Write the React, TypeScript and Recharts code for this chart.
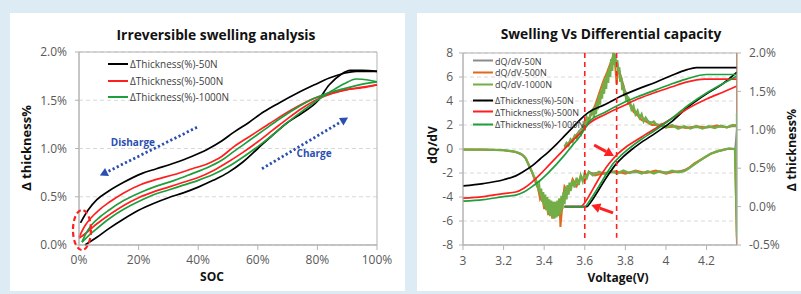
import {
  LineChart,
  Line,
  XAxis,
  YAxis,
  CartesianGrid,
  ReferenceLine,
  ReferenceDot,
  ReferenceArea,
} from "recharts";

// ---------- left chart: thickness vs SOC ----------
const socTicks = [0, 20, 40, 60, 80, 100];
const thickTicks = [0, 0.5, 1, 1.5, 2];

const socCharge50 = [2, 6, 10, 15, 20, 25, 30, 35, 40, 45, 50, 55, 60, 65, 70, 75, 80, 84, 88, 91, 95, 100];
const thickCharge50 = [0, 0.08, 0.17, 0.27, 0.36, 0.43, 0.49, 0.54, 0.6, 0.67, 0.75, 0.86, 1.0, 1.14, 1.27, 1.37, 1.49, 1.66, 1.77, 1.81, 1.81, 1.8];
const socDischarge50 = [0.5, 3, 6, 10, 15, 21, 26, 32, 38, 43, 48, 52, 57, 62, 67, 73, 79, 84, 89, 93, 100];
const thickDischarge50 = [0.23, 0.36, 0.47, 0.56, 0.65, 0.74, 0.79, 0.85, 0.92, 0.99, 1.08, 1.17, 1.27, 1.38, 1.47, 1.57, 1.66, 1.73, 1.78, 1.8, 1.8];

const socCharge500 = [0, 3, 6, 10, 15, 20, 25, 30, 35, 40, 45, 50, 55, 60, 65, 70, 75, 80, 85, 90, 95, 100];
const thickCharge500 = [0.07, 0.14, 0.22, 0.31, 0.41, 0.49, 0.55, 0.6, 0.65, 0.7, 0.77, 0.86, 0.96, 1.07, 1.19, 1.31, 1.42, 1.51, 1.57, 1.61, 1.63, 1.66];
const socDischarge500 = [0, 2, 4, 7, 10, 15, 21, 26, 32, 38, 43, 48, 52, 57, 62, 67, 73, 79, 84, 88, 94, 100];
const thickDischarge500 = [0.08, 0.2, 0.28, 0.37, 0.44, 0.54, 0.63, 0.68, 0.73, 0.79, 0.84, 0.92, 1.02, 1.12, 1.22, 1.32, 1.43, 1.52, 1.57, 1.6, 1.63, 1.66];

const socCharge1000 = [1, 3, 6, 10, 15, 20, 25, 30, 35, 40, 45, 50, 55, 60, 65, 70, 75, 80, 85, 89, 93, 97, 100];
const thickCharge1000 = [0.03, 0.09, 0.17, 0.27, 0.37, 0.45, 0.52, 0.57, 0.62, 0.67, 0.73, 0.81, 0.91, 1.02, 1.14, 1.27, 1.39, 1.5, 1.6, 1.67, 1.72, 1.71, 1.69];
const socDischarge1000 = [1, 2, 4, 7, 10, 15, 21, 26, 32, 38, 43, 48, 52, 57, 62, 67, 73, 79, 84, 89, 94, 100];
const thickDischarge1000 = [0.03, 0.1, 0.2, 0.29, 0.36, 0.46, 0.55, 0.61, 0.67, 0.74, 0.8, 0.88, 0.97, 1.08, 1.19, 1.3, 1.42, 1.52, 1.58, 1.62, 1.66, 1.69];

// ---------- right chart: dQ/dV and thickness vs voltage ----------
const voltTicks = [3, 3.2, 3.4, 3.6, 3.8, 4, 4.2];
const dqTicks = [-8, -6, -4, -2, 0, 2, 4, 6, 8];
const rightTicks = [-0.5, 0, 0.5, 1, 1.5, 2];

const voltDq50 = [3.5, 3.55, 3.6, 3.64, 3.68, 3.72, 3.745, 3.76, 3.78, 3.8, 3.83, 3.86, 3.9, 3.95, 4.0, 4.1, 4.2, 4.3, 4.35,
  4.34, 4.3, 4.22, 4.16, 4.1, 4.05, 3.9, 3.75, 3.62, 3.58, 3.54, 3.5, 3.47, 3.45, 3.42, 3.4, 3.38, 3.36, 3.34, 3.32, 3.3, 3.26, 3.2, 3.0];
const dq50 = [0.2, 1.0, 2.1, 3.0, 4.6, 6.4, 7.6, 7.2, 6.0, 4.8, 3.6, 2.9, 2.4, 2.1, 1.9, 1.8, 1.8, 1.85, 1.9,
  0.0, 0.0, -0.4, -1.05, -1.7, -1.9, -1.95, -1.95, -2.0, -2.5, -3.0, -3.6, -4.8, -5.3, -4.9, -4.6, -3.9, -2.8, -1.9, -1.2, -0.6, -0.25, -0.1, -0.05];

const voltDq500 = [3.5, 3.52, 3.54, 3.56, 3.58, 3.595, 3.6, 3.61, 3.63, 3.65, 3.67, 3.69, 3.71, 3.73, 3.745, 3.757, 3.765, 3.78, 3.8, 3.82, 3.84, 3.86, 3.88, 3.9, 3.93, 3.96, 4.0, 4.05, 4.1, 4.15, 4.2, 4.25, 4.3, 4.34, 4.35, 4.35, 4.35,
  4.34, 4.3, 4.26, 4.22, 4.18, 4.14, 4.11, 4.08, 4.04, 4.0, 3.95, 3.9, 3.85, 3.8, 3.75, 3.7, 3.65, 3.62, 3.6, 3.58, 3.56, 3.54, 3.52, 3.5, 3.49, 3.48, 3.475, 3.46, 3.45, 3.44, 3.43, 3.42, 3.41, 3.4, 3.39, 3.38, 3.37, 3.36, 3.35, 3.33, 3.31, 3.29, 3.26, 3.2, 3.1, 3.0];
const dq500 = [0.1, 0.5, 0.8, 1.2, 1.4, 1.6, 2.3, 2.2, 2.9, 3.6, 4.6, 5.6, 6.4, 7.3, 8.0, 5.4, 6.8, 5.8, 4.6, 3.8, 3.1, 2.8, 2.4, 2.3, 2.0, 2.0, 1.8, 1.9, 1.75, 1.9, 1.8, 1.95, 1.8, 2.0, 1.9, 8.0, -8.0,
  0.0, 0.0, -0.15, -0.4, -0.8, -1.2, -1.6, -1.85, -1.9, -2.05, -1.8, -2.0, -1.8, -2.05, -1.85, -2.0, -2.2, -1.9, -2.6, -2.3, -3.1, -2.5, -3.6, -3.1, -4.6, -6.5, -4.2, -5.5, -4.4, -5.8, -4.6, -5.5, -4.3, -5.0, -3.9, -4.2, -3.3, -2.9, -2.4, -1.5, -0.8, -0.45, -0.25, -0.1, -0.05, -0.05];

const voltDq1000 = [3.5, 3.51, 3.52, 3.53, 3.54, 3.55, 3.56, 3.57, 3.58, 3.59, 3.6, 3.61, 3.62, 3.63,
  3.64, 3.645, 3.65, 3.655, 3.66, 3.665, 3.67, 3.675, 3.68, 3.685, 3.69, 3.695, 3.7, 3.705, 3.71, 3.715, 3.72, 3.725, 3.73, 3.735, 3.74, 3.745, 3.75, 3.755, 3.76, 3.765, 3.77, 3.775, 3.78, 3.785, 3.79, 3.795, 3.8, 3.805, 3.81, 3.815, 3.82,
  3.83, 3.84, 3.85, 3.86, 3.87, 3.88, 3.89, 3.9, 3.92, 3.94, 3.96, 3.98, 4.0, 4.03, 4.06, 4.09, 4.12, 4.15, 4.18, 4.21, 4.24, 4.27, 4.3, 4.33, 4.35, 4.35, 4.35,
  4.34, 4.31, 4.28, 4.25, 4.22, 4.19, 4.16, 4.13, 4.11, 4.09, 4.06, 4.03, 4.0, 3.97, 3.94, 3.91, 3.88, 3.85, 3.82, 3.79, 3.76, 3.73, 3.7, 3.67, 3.64, 3.62, 3.61, 3.6, 3.59, 3.58, 3.57, 3.56, 3.55, 3.54,
  3.53, 3.525, 3.52, 3.515, 3.51, 3.505, 3.5, 3.495, 3.49, 3.485, 3.48, 3.475, 3.47, 3.465, 3.46, 3.455, 3.45, 3.445, 3.44, 3.435, 3.43, 3.425, 3.42, 3.415, 3.41, 3.405, 3.4, 3.395, 3.39, 3.385, 3.38, 3.375, 3.37,
  3.36, 3.35, 3.34, 3.33, 3.32, 3.31, 3.3, 3.28, 3.25, 3.2, 3.1, 3.0];
const dq1000 = [0.2, 0.5, 0.3, 0.8, 0.6, 1.1, 0.9, 1.4, 1.2, 1.9, 1.7, 2.6, 2.1, 3.1,
  3.3, 2.6, 3.5, 2.9, 3.9, 3.3, 4.5, 3.7, 4.9, 4.2, 5.5, 4.6, 5.9, 5.0, 6.4, 5.5, 6.8, 6.0, 7.5, 6.5, 8.0, 7.0, 7.9, 6.8, 7.4, 6.3, 6.8, 5.6, 6.0, 4.9, 5.3, 4.4, 4.8, 4.0, 4.4, 3.7, 4.0,
  3.3, 3.6, 2.9, 3.2, 2.6, 2.9, 2.3, 2.6, 2.1, 2.3, 1.9, 2.1, 1.8, 2.0, 1.7, 1.9, 1.7, 1.9, 1.7, 1.9, 1.75, 1.95, 1.8, 2.0, 1.9, 3.0, -7.4,
  0.0, 0.05, -0.1, -0.2, -0.4, -0.7, -1.05, -1.4, -1.65, -1.85, -1.95, -1.8, -2.0, -1.85, -2.05, -1.85, -2.05, -1.85, -2.0, -1.8, -2.05, -1.85, -2.1, -1.9, -2.2, -1.9, -2.4, -2.0, -2.7, -2.2, -3.0, -2.4, -3.2, -2.6,
  -3.5, -2.8, -3.8, -3.0, -4.2, -3.2, -4.6, -3.6, -5.0, -3.9, -5.4, -4.1, -5.6, -4.3, -5.7, -4.4, -5.8, -4.4, -5.7, -4.3, -5.6, -4.2, -5.4, -4.0, -5.1, -3.8, -4.8, -3.6, -4.4, -3.3, -3.8, -3.0, -3.2,
  -2.6, -2.3, -1.9, -1.6, -1.2, -0.8, -0.6, -0.35, -0.2, -0.1, -0.05, -0.05];

const voltCharge50 = [3.5, 3.61, 3.63, 3.66, 3.69, 3.72, 3.75, 3.79, 3.83, 3.87, 3.95, 4.03, 4.11, 4.2, 4.28, 4.35];
const swellCharge50 = [0.0, 0.0, 0.06, 0.18, 0.31, 0.43, 0.54, 0.65, 0.74, 0.82, 0.96, 1.11, 1.3, 1.47, 1.6, 1.75];
const voltDischarge50 = [3.0, 3.1, 3.2, 3.26, 3.3, 3.34, 3.38, 3.42, 3.46, 3.5, 3.54, 3.58, 3.62, 3.7, 3.78, 3.86, 3.95, 4.03, 4.1, 4.15, 4.35];
const swellDischarge50 = [0.27, 0.3, 0.35, 0.4, 0.46, 0.53, 0.62, 0.71, 0.81, 0.92, 1.03, 1.14, 1.23, 1.33, 1.44, 1.53, 1.62, 1.71, 1.78, 1.81, 1.81];

const voltCharge500 = [3.5, 3.58, 3.6, 3.63, 3.66, 3.69, 3.72, 3.76, 3.8, 3.87, 3.95, 4.03, 4.11, 4.2, 4.28, 4.35];
const swellCharge500 = [0.0, 0.0, 0.05, 0.18, 0.32, 0.45, 0.56, 0.68, 0.77, 0.89, 1.02, 1.15, 1.28, 1.4, 1.49, 1.57];
const voltDischarge500 = [3.0, 3.1, 3.2, 3.26, 3.3, 3.34, 3.38, 3.42, 3.46, 3.5, 3.54, 3.58, 3.62, 3.7, 3.78, 3.86, 3.95, 4.03, 4.1, 4.19, 4.35];
const swellDischarge500 = [0.11, 0.13, 0.17, 0.19, 0.24, 0.32, 0.42, 0.53, 0.64, 0.75, 0.86, 0.96, 1.08, 1.2, 1.3, 1.4, 1.49, 1.56, 1.62, 1.66, 1.66];

const voltCharge1000 = [3.5, 3.6, 3.62, 3.65, 3.68, 3.71, 3.74, 3.78, 3.82, 3.87, 3.95, 4.03, 4.11, 4.2, 4.28, 4.35];
const swellCharge1000 = [0.0, 0.0, 0.06, 0.18, 0.31, 0.44, 0.56, 0.67, 0.76, 0.86, 1.0, 1.15, 1.32, 1.48, 1.6, 1.7];
const voltDischarge1000 = [3.0, 3.1, 3.2, 3.26, 3.3, 3.34, 3.38, 3.42, 3.46, 3.5, 3.54, 3.58, 3.62, 3.7, 3.78, 3.86, 3.95, 4.03, 4.1, 4.2, 4.35];
const swellDischarge1000 = [0.07, 0.09, 0.13, 0.15, 0.19, 0.26, 0.34, 0.44, 0.55, 0.67, 0.8, 0.93, 1.1, 1.23, 1.34, 1.43, 1.52, 1.6, 1.66, 1.72, 1.72];

const zip = (xs: number[], ys: number[]) => xs.map((x, i) => ({ x, y: ys[i] }));

const BLACK = "#000000";
const RED = "#ff1f1f";
const GREEN = "#1f9e3c";
const GRAY_DQ = "#8c8c8c";
const ORANGE_DQ = "#e0691f";
const GREEN_DQ = "#72ad47";
const BLUE = "#2a4fb0";
const AXIS = "#b3b3b3";
const TICK = { fill: "#595959", fontSize: 12, fontFamily: "Open Sans" };

const arrowShape = (color: string, width: number, dash: string | undefined, head: number) => (p: any) => {
  const { x1, y1, x2, y2 } = p;
  const a = Math.atan2(y2 - y1, x2 - x1);
  const bx = x2 - Math.cos(a) * head;
  const by = y2 - Math.sin(a) * head;
  const w = head * 0.55;
  const pts = [
    [x2, y2],
    [bx + Math.sin(a) * w, by - Math.cos(a) * w],
    [bx - Math.sin(a) * w, by + Math.cos(a) * w],
  ]
    .map((q) => q.join(","))
    .join(" ");
  return (
    <g>
      <line x1={x1} y1={y1} x2={bx} y2={by} stroke={color} strokeWidth={width} strokeDasharray={dash} />
      <polygon points={pts} fill={color} />
    </g>
  );
};

const textShape = (label: string) => (p: any) => (
  <text x={p.cx} y={p.cy} textAnchor="middle" dominantBaseline="central" fill={BLUE} fontSize={10} fontWeight={700} fontFamily="Open Sans">
    {label}
  </text>
);

const ellipseShape = (p: any) => (
  <ellipse cx={p.cx} cy={p.cy} rx={9} ry={20} fill="none" stroke="#ff2020" strokeWidth={2.2} strokeDasharray="5 3" />
);

const centered = (left: number, top: number, rotate = 0): React.CSSProperties => ({
  position: "absolute",
  left,
  top,
  transform: `translate(-50%, -50%) rotate(${rotate}deg)`,
  whiteSpace: "nowrap",
  lineHeight: 1,
  fontWeight: 700,
  color: "#111",
});

const LegendRow = ({ top, left, color, label, fontSize, width }: any) => (
  <div style={{ position: "absolute", top, left, display: "flex", alignItems: "center", transform: "translateY(-50%)", fontSize, color: "#404040", whiteSpace: "nowrap", lineHeight: 1 }}>
    <div style={{ width: 20, height: width, background: color, marginRight: 2 }} />
    <span>{label}</span>
  </div>
);

const leftLegend = [
  { label: "ΔThickness(%)-50N", color: BLACK, top: 51 },
  { label: "ΔThickness(%)-500N", color: RED, top: 67.5 },
  { label: "ΔThickness(%)-1000N", color: GREEN, top: 84 },
];

const rightLegend = [
  { label: "dQ/dV-50N", color: GRAY_DQ, top: 47.7, w: 1.5 },
  { label: "dQ/dV-500N", color: ORANGE_DQ, top: 59.3, w: 2 },
  { label: "dQ/dV-1000N", color: GREEN_DQ, top: 71, w: 2 },
  { label: "ΔThickness(%)-50N", color: BLACK, top: 87, w: 2 },
  { label: "ΔThickness(%)-500N", color: RED, top: 98.7, w: 2 },
  { label: "ΔThickness(%)-1000N", color: GREEN, top: 111, w: 2 },
];

const SwellingChart = () => {
  const lineProps = { dot: false, activeDot: false, isAnimationActive: false, dataKey: "y", type: "monotone" as const };
  return (
    <div style={{ position: "absolute", left: 10, top: 13, width: 395, height: 278, background: "#fff", fontFamily: "Open Sans" }}>
      <LineChart width={395} height={278} margin={{ top: 39, right: 28, bottom: 16, left: 0 }}>
        <CartesianGrid vertical={false} stroke="#d9d9d9" strokeDasharray="4 3" />
        <XAxis
          dataKey="x"
          type="number"
          domain={[0, 100]}
          ticks={socTicks}
          tickFormatter={(v) => `${v}%`}
          height={30}
          tick={TICK}
          stroke={AXIS}
          tickSize={5}
          tickMargin={5}
        />
        <YAxis
          type="number"
          domain={[0, 2]}
          ticks={thickTicks}
          tickFormatter={(v) => `${v.toFixed(1)}%`}
          width={69}
          tick={TICK}
          stroke={AXIS}
          tickSize={4}
          tickMargin={8}
        />
        <ReferenceArea x1={0} x2={100} y1={0} y2={2} fill="none" stroke={AXIS} />
        <Line {...lineProps} data={zip(socCharge50, thickCharge50)} stroke={BLACK} strokeWidth={1.7} />
        <Line {...lineProps} data={zip(socDischarge50, thickDischarge50)} stroke={BLACK} strokeWidth={1.7} />
        <Line {...lineProps} data={zip(socCharge500, thickCharge500)} stroke={RED} strokeWidth={1.7} />
        <Line {...lineProps} data={zip(socDischarge500, thickDischarge500)} stroke={RED} strokeWidth={1.7} />
        <Line {...lineProps} data={zip(socCharge1000, thickCharge1000)} stroke={GREEN} strokeWidth={1.7} />
        <Line {...lineProps} data={zip(socDischarge1000, thickDischarge1000)} stroke={GREEN} strokeWidth={1.7} />
        <ReferenceLine
          segment={[{ x: 39.6, y: 1.22 }, { x: 7, y: 0.72 }]}
          shape={arrowShape(BLUE, 2.8, "2.2 2.4", 8)}
        />
        <ReferenceLine
          segment={[{ x: 61.4, y: 0.79 }, { x: 90.3, y: 1.32 }]}
          shape={arrowShape(BLUE, 2.8, "2.2 2.4", 8)}
        />
        <ReferenceDot x={18.1} y={1.07} shape={textShape("Disharge")} />
        <ReferenceDot x={78.9} y={0.95} shape={textShape("Charge")} />
        <ReferenceDot x={1} y={0.155} shape={ellipseShape} />
      </LineChart>
      <div style={{ ...centered(206, 22), fontSize: 13.8 }}>Irreversible swelling analysis</div>
      <div style={{ ...centered(16, 135, -90), fontSize: 13 }}>Δ thickness%</div>
      <div style={{ ...centered(202, 264), fontSize: 12 }}>SOC</div>
      {leftLegend.map((d) => (
        <LegendRow key={d.label} top={d.top} left={98} color={d.color} label={d.label} fontSize={10} width={2} />
      ))}
    </div>
  );
};

const DifferentialChart = () => {
  const dqProps = { dot: false, activeDot: false, isAnimationActive: false, dataKey: "y", type: "linear" as const, yAxisId: "left" };
  const swProps = { dot: false, activeDot: false, isAnimationActive: false, dataKey: "y", type: "monotone" as const, yAxisId: "right", strokeWidth: 1.7 };
  return (
    <div style={{ position: "absolute", left: 417, top: 13, width: 384, height: 278, background: "#fff", fontFamily: "Open Sans" }}>
      <LineChart width={384} height={278} margin={{ top: 40, right: 19, bottom: 16, left: 0 }}>
        <CartesianGrid vertical={false} yAxisId="left" stroke="#d9d9d9" strokeDasharray="4 3" />
        <XAxis
          dataKey="x"
          type="number"
          domain={[3, 4.35]}
          allowDataOverflow
          ticks={voltTicks}
          tickFormatter={(v) => `${Number(v.toFixed(1))}`}
          height={30}
          tick={TICK}
          stroke={AXIS}
          tickSize={5}
          tickMargin={6}
        />
        <YAxis
          yAxisId="left"
          type="number"
          domain={[-8, 8]}
          ticks={dqTicks}
          width={46}
          tick={TICK}
          stroke={AXIS}
          tickSize={4}
          tickMargin={6}
        />
        <YAxis
          yAxisId="right"
          orientation="right"
          type="number"
          domain={[-0.5, 2]}
          ticks={rightTicks}
          tickFormatter={(v) => `${v.toFixed(1)}%`}
          width={45}
          tick={TICK}
          stroke={AXIS}
          tickSize={4}
          tickMargin={8}
        />
        <ReferenceArea yAxisId="left" x1={3} x2={4.35} y1={-8} y2={8} fill="none" stroke={AXIS} />
        <Line {...dqProps} data={zip(voltDq50, dq50)} stroke={GRAY_DQ} strokeWidth={1.5} />
        <Line {...dqProps} data={zip(voltDq500, dq500)} stroke={ORANGE_DQ} strokeWidth={2} />
        <Line {...dqProps} data={zip(voltDq1000, dq1000)} stroke={GREEN_DQ} strokeWidth={2.3} />
        <Line {...swProps} data={zip(voltCharge50, swellCharge50)} stroke={BLACK} />
        <Line {...swProps} data={zip(voltDischarge50, swellDischarge50)} stroke={BLACK} />
        <Line {...swProps} data={zip(voltCharge500, swellCharge500)} stroke={RED} />
        <Line {...swProps} data={zip(voltDischarge500, swellDischarge500)} stroke={RED} />
        <Line {...swProps} data={zip(voltCharge1000, swellCharge1000)} stroke={GREEN} />
        <Line {...swProps} data={zip(voltDischarge1000, swellDischarge1000)} stroke={GREEN} />
        <ReferenceLine
          yAxisId="left"
          segment={[{ x: 3.6, y: 8 }, { x: 3.6, y: -7.5 }]}
          stroke="#ff2020"
          strokeWidth={1.6}
          strokeDasharray="5 4"
        />
        <ReferenceLine
          yAxisId="left"
          segment={[{ x: 3.757, y: 8 }, { x: 3.757, y: -7.4 }]}
          stroke="#ff2020"
          strokeWidth={1.6}
          strokeDasharray="5 4"
        />
        <ReferenceLine
          yAxisId="left"
          segment={[{ x: 3.646, y: 0.33 }, { x: 3.744, y: -0.58 }]}
          shape={arrowShape("#ff2020", 3, undefined, 9)}
        />
        <ReferenceLine
          yAxisId="left"
          segment={[{ x: 3.739, y: -5.33 }, { x: 3.632, y: -4.67 }]}
          shape={arrowShape("#ff2020", 3, undefined, 9)}
        />
      </LineChart>
      <div style={{ ...centered(194, 21), fontSize: 13.8 }}>Swelling Vs Differential capacity</div>
      <div style={{ ...centered(16, 132, -90), fontSize: 12 }}>dQ/dV</div>
      <div style={{ ...centered(375, 137, -90), fontSize: 12.5 }}>Δ thickness%</div>
      <div style={{ ...centered(201, 265), fontSize: 12 }}>Voltage(V)</div>
      {rightLegend.map((d) => (
        <LegendRow key={d.label} top={d.top} left={56} color={d.color} label={d.label} fontSize={9} width={d.w} />
      ))}
    </div>
  );
};

export default function App() {
  return (
    <div style={{ position: "absolute", left: 0, top: 0, width: 801, height: 294, background: "#dcebf4", overflow: "hidden" }}>
      <SwellingChart />
      <DifferentialChart />
    </div>
  );
}
